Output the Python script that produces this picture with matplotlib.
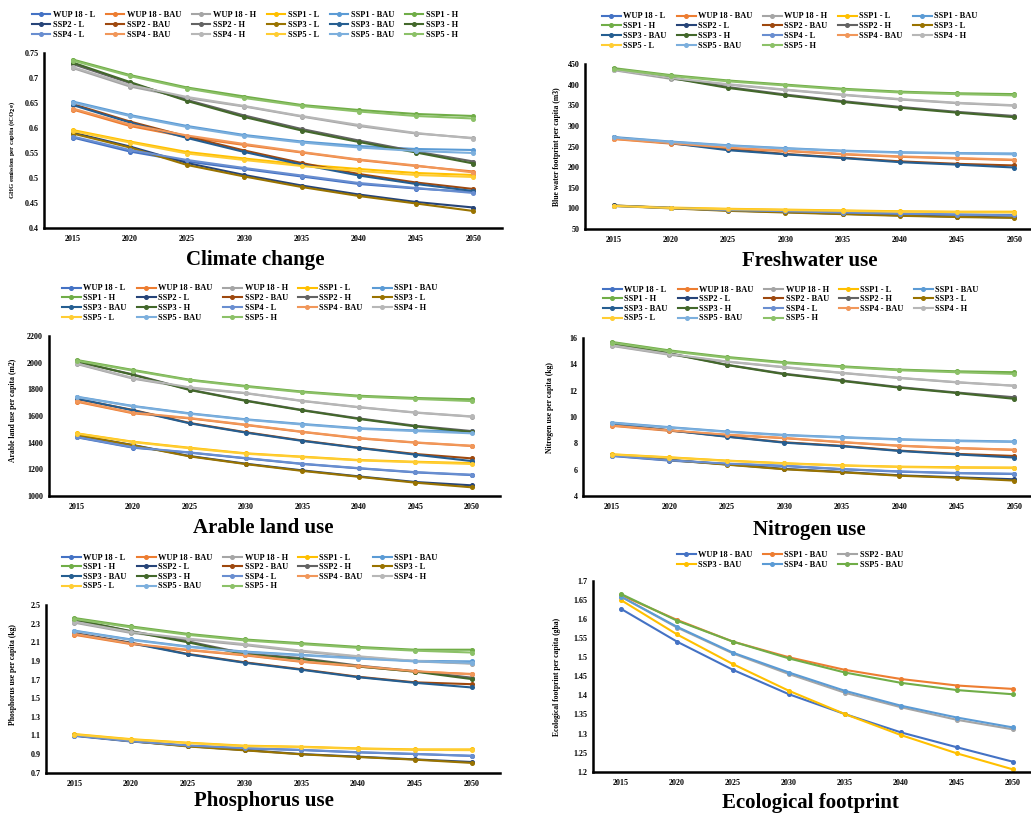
import matplotlib
matplotlib.use('Agg')
import matplotlib.pyplot as plt

plt.rcParams['font.family'] = ['Liberation Serif', 'DejaVu Serif']
plt.rcParams['font.weight'] = 'bold'

years = ['2015', '2020', '2025', '2030', '2035', '2040', '2045', '2050']

scenarios = ['WUP 18 - L', 'WUP 18 - BAU', 'WUP 18 - H', 'SSP1 - L', 'SSP1 - BAU', 'SSP1 - H',
             'SSP2 - L', 'SSP2 - BAU', 'SSP2 - H', 'SSP3 - L', 'SSP3 - BAU', 'SSP3 - H',
             'SSP4 - L', 'SSP4 - BAU', 'SSP4 - H', 'SSP5 - L', 'SSP5 - BAU', 'SSP5 - H']

colors = ['#4472C4', '#ED7D31', '#A5A5A5', '#FFC000', '#5B9BD5', '#70AD47',
          '#264478', '#9E480E', '#636363', '#997300', '#255E91', '#43682B',
          '#698ED0', '#F1975A', '#B7B7B7', '#FFCD33', '#7CAFDD', '#8CC168']

# Climate change (GHG, tCO2e per capita), order = scenarios
climate = [
    [0.581, 0.553, 0.533, 0.518, 0.503, 0.488, 0.479, 0.472],
    [0.637, 0.604, 0.582, 0.566, 0.551, 0.536, 0.524, 0.513],
    [0.720, 0.683, 0.660, 0.643, 0.623, 0.604, 0.589, 0.580],
    [0.596, 0.573, 0.552, 0.539, 0.527, 0.518, 0.510, 0.506],
    [0.653, 0.626, 0.604, 0.586, 0.573, 0.564, 0.558, 0.556],
    [0.737, 0.706, 0.681, 0.663, 0.646, 0.636, 0.628, 0.624],
    [0.591, 0.563, 0.530, 0.506, 0.485, 0.467, 0.452, 0.441],
    [0.648, 0.613, 0.583, 0.555, 0.530, 0.508, 0.491, 0.478],
    [0.728, 0.690, 0.656, 0.625, 0.598, 0.575, 0.553, 0.533],
    [0.589, 0.561, 0.526, 0.503, 0.482, 0.464, 0.449, 0.434],
    [0.646, 0.611, 0.580, 0.552, 0.527, 0.505, 0.488, 0.474],
    [0.731, 0.692, 0.654, 0.622, 0.595, 0.572, 0.551, 0.529],
    [0.583, 0.556, 0.536, 0.520, 0.505, 0.490, 0.480, 0.470],
    [0.639, 0.607, 0.585, 0.568, 0.552, 0.537, 0.525, 0.511],
    [0.722, 0.686, 0.662, 0.644, 0.624, 0.606, 0.590, 0.579],
    [0.594, 0.571, 0.549, 0.536, 0.524, 0.514, 0.506, 0.502],
    [0.651, 0.624, 0.602, 0.584, 0.571, 0.561, 0.554, 0.550],
    [0.735, 0.704, 0.679, 0.660, 0.644, 0.633, 0.624, 0.619],
]

# Freshwater use (blue water footprint, m3 per capita)
freshwater = [
    [106, 101, 96, 93, 90, 87, 85, 84],
    [268, 257, 246, 239, 231, 225, 221, 217],
    [435, 414, 400, 387, 375, 364, 355, 349],
    [107, 102, 99, 97, 95, 93, 92, 92],
    [273, 262, 253, 246, 240, 236, 234, 233],
    [440, 423, 410, 400, 390, 383, 379, 377],
    [107, 101, 95, 91, 87, 83, 80, 78],
    [271, 259, 243, 232, 223, 214, 208, 204],
    [437, 417, 394, 376, 360, 346, 334, 324],
    [106, 100, 94, 90, 86, 82, 79, 77],
    [272, 258, 241, 231, 222, 212, 206, 199],
    [438, 416, 392, 374, 358, 344, 332, 321],
    [106, 101, 96, 93, 90, 87, 85, 83],
    [269, 258, 247, 240, 232, 226, 222, 218],
    [436, 416, 401, 388, 376, 365, 356, 350],
    [106, 101, 98, 96, 94, 92, 91, 90],
    [272, 261, 252, 245, 239, 235, 233, 231],
    [438, 421, 408, 398, 388, 381, 377, 374],
]

# Arable land use (m2 per capita)
arable = [
    [1440, 1362, 1325, 1282, 1240, 1207, 1177, 1157],
    [1707, 1620, 1582, 1532, 1480, 1432, 1400, 1375],
    [1990, 1880, 1810, 1770, 1712, 1665, 1625, 1595],
    [1470, 1407, 1362, 1320, 1295, 1270, 1257, 1247],
    [1745, 1675, 1620, 1575, 1540, 1508, 1492, 1485],
    [2020, 1945, 1872, 1825, 1783, 1752, 1735, 1725],
    [1455, 1382, 1300, 1242, 1192, 1147, 1105, 1080],
    [1727, 1645, 1548, 1478, 1416, 1362, 1315, 1282],
    [2005, 1912, 1798, 1716, 1645, 1582, 1527, 1487],
    [1458, 1380, 1297, 1239, 1188, 1144, 1100, 1065],
    [1730, 1642, 1545, 1475, 1413, 1360, 1310, 1262],
    [2010, 1908, 1795, 1713, 1642, 1578, 1522, 1480],
    [1443, 1365, 1327, 1284, 1242, 1209, 1179, 1160],
    [1712, 1625, 1585, 1535, 1482, 1435, 1402, 1377],
    [1995, 1885, 1815, 1772, 1714, 1667, 1627, 1597],
    [1468, 1404, 1358, 1317, 1292, 1267, 1253, 1240],
    [1742, 1672, 1617, 1572, 1536, 1504, 1487, 1470],
    [2015, 1940, 1868, 1820, 1778, 1746, 1728, 1712],
]

# Nitrogen use (kg per capita)
nitrogen = [
    [7.04, 6.69, 6.44, 6.28, 6.03, 5.85, 5.73, 5.67],
    [9.33, 8.95, 8.64, 8.39, 8.08, 7.81, 7.63, 7.50],
    [15.40, 14.73, 14.20, 13.77, 13.34, 12.96, 12.63, 12.37],
    [7.17, 6.94, 6.69, 6.49, 6.33, 6.23, 6.18, 6.16],
    [9.58, 9.23, 8.90, 8.64, 8.47, 8.31, 8.21, 8.14],
    [15.70, 15.06, 14.56, 14.16, 13.85, 13.60, 13.47, 13.40],
    [7.10, 6.75, 6.40, 6.06, 5.83, 5.57, 5.42, 5.27],
    [9.45, 9.00, 8.52, 8.08, 7.81, 7.45, 7.20, 7.04],
    [15.55, 14.85, 13.97, 13.29, 12.78, 12.27, 11.86, 11.50],
    [7.12, 6.73, 6.38, 6.03, 5.80, 5.54, 5.38, 5.17],
    [9.48, 8.98, 8.50, 8.05, 7.78, 7.42, 7.16, 6.92],
    [15.60, 14.82, 13.95, 13.25, 12.74, 12.23, 11.82, 11.38],
    [7.06, 6.71, 6.46, 6.30, 6.05, 5.87, 5.75, 5.69],
    [9.36, 8.98, 8.66, 8.41, 8.10, 7.83, 7.65, 7.52],
    [15.45, 14.78, 14.22, 13.80, 13.36, 12.98, 12.65, 12.38],
    [7.15, 6.92, 6.67, 6.47, 6.31, 6.20, 6.15, 6.12],
    [9.55, 9.20, 8.87, 8.61, 8.44, 8.28, 8.17, 8.10],
    [15.65, 15.00, 14.50, 14.10, 13.80, 13.55, 13.40, 13.27],
]

# Phosphorus use (kg per capita)
phosphorus = [
    [1.095, 1.035, 0.990, 0.961, 0.943, 0.918, 0.900, 0.880],
    [2.180, 2.080, 2.015, 1.960, 1.890, 1.840, 1.785, 1.760],
    [2.310, 2.200, 2.130, 2.070, 2.000, 1.945, 1.895, 1.870],
    [1.115, 1.060, 1.022, 0.990, 0.979, 0.961, 0.950, 0.950],
    [2.225, 2.130, 2.055, 2.000, 1.965, 1.930, 1.900, 1.895],
    [2.360, 2.270, 2.190, 2.130, 2.090, 2.050, 2.020, 2.020],
    [1.100, 1.040, 0.985, 0.943, 0.900, 0.872, 0.843, 0.815],
    [2.200, 2.095, 1.975, 1.885, 1.810, 1.730, 1.670, 1.650],
    [2.340, 2.220, 2.110, 1.980, 1.930, 1.850, 1.790, 1.720],
    [1.102, 1.038, 0.982, 0.940, 0.897, 0.868, 0.840, 0.805],
    [2.195, 2.090, 1.970, 1.880, 1.805, 1.725, 1.665, 1.615],
    [2.345, 2.215, 2.100, 1.970, 1.920, 1.840, 1.785, 1.705],
    [1.098, 1.037, 0.992, 0.963, 0.945, 0.920, 0.902, 0.882],
    [2.190, 2.085, 2.020, 1.965, 1.895, 1.845, 1.790, 1.755],
    [2.320, 2.210, 2.140, 2.080, 2.010, 1.950, 1.900, 1.875],
    [1.110, 1.055, 1.018, 0.985, 0.975, 0.957, 0.945, 0.942],
    [2.220, 2.125, 2.050, 1.995, 1.960, 1.925, 1.895, 1.880],
    [2.350, 2.260, 2.180, 2.120, 2.080, 2.040, 2.010, 1.990],
]

# Ecological footprint (gha per capita)
eco_labels = ['WUP 18 - BAU', 'SSP1 - BAU', 'SSP2 - BAU', 'SSP3 - BAU', 'SSP4 - BAU', 'SSP5 - BAU']
eco_colors = ['#4472C4', '#ED7D31', '#A5A5A5', '#FFC000', '#5B9BD5', '#70AD47']
ecological = [
    [1.627, 1.541, 1.467, 1.403, 1.351, 1.303, 1.264, 1.226],
    [1.663, 1.598, 1.541, 1.500, 1.467, 1.443, 1.426, 1.417],
    [1.659, 1.578, 1.510, 1.456, 1.407, 1.369, 1.336, 1.311],
    [1.650, 1.560, 1.482, 1.412, 1.351, 1.296, 1.248, 1.206],
    [1.659, 1.580, 1.512, 1.460, 1.412, 1.373, 1.342, 1.316],
    [1.666, 1.596, 1.541, 1.497, 1.460, 1.433, 1.414, 1.403],
]

W, H = 1031, 816


def fx(x):
    return x / W


def fy(y):
    return 1 - y / H


def reorder(items, ncol):
    n = len(items)
    base, nlarge = divmod(n, ncol)
    rows_per_col = [base + 1] * nlarge + [base] * (ncol - nlarge)
    out = []
    for c in range(ncol):
        for r in range(rows_per_col[c]):
            out.append(items[r * ncol + c])
    return out


fig = plt.figure(figsize=(W / 100, H / 100), dpi=100)

panels = [
    dict(vals=climate, labels=scenarios, cols=colors,
         px=(44, 53, 502, 228), ylim=(0.4, 0.75),
         yticks=[0.4, 0.45, 0.5, 0.55, 0.6, 0.65, 0.7, 0.75],
         yticklabels=['0.4', '0.45', '0.5', '0.55', '0.6', '0.65', '0.7', '0.75'],
         ylabel='GHG emission per capita (tCO$_2$e)', ylab_xy=(12, 150), ylab_fs=4.8,
         title='Climate change', title_xy=(255, 265), ncol=6, leg_xy=(245, 25)),
    dict(vals=freshwater, labels=scenarios, cols=colors,
         px=(585, 64, 1043, 229), ylim=(50, 450),
         yticks=[50, 100, 150, 200, 250, 300, 350, 400, 450],
         yticklabels=['50', '100', '150', '200', '250', '300', '350', '400', '450'],
         ylabel='Blue water footprint per capita (m3)', ylab_xy=(557, 147), ylab_fs=5.5,
         title='Freshwater use', title_xy=(810, 266), ncol=5, leg_xy=(790, 31)),
    dict(vals=arable, labels=scenarios, cols=colors,
         px=(48.5, 336, 500, 496), ylim=(1000, 2200),
         yticks=[1000, 1200, 1400, 1600, 1800, 2000, 2200],
         yticklabels=['1000', '1200', '1400', '1600', '1800', '2000', '2200'],
         ylabel='Arable land use per capita (m2)', ylab_xy=(13, 410), ylab_fs=5.5,
         title='Arable land use', title_xy=(263, 533), ncol=5, leg_xy=(250, 303)),
    dict(vals=nitrogen, labels=scenarios, cols=colors,
         px=(583, 338, 1043, 496), ylim=(4, 16),
         yticks=[4, 6, 8, 10, 12, 14, 16],
         yticklabels=['4', '6', '8', '10', '12', '14', '16'],
         ylabel='Nitrogen use per capita (kg)', ylab_xy=(550, 408), ylab_fs=5.5,
         title='Nitrogen use', title_xy=(809, 535), ncol=5, leg_xy=(791, 304)),
    dict(vals=phosphorus, labels=scenarios, cols=colors,
         px=(46, 605, 500, 772.7), ylim=(0.7, 2.5),
         yticks=[0.7, 0.9, 1.1, 1.3, 1.5, 1.7, 1.9, 2.1, 2.3, 2.5],
         yticklabels=['0.7', '0.9', '1.1', '1.3', '1.5', '1.7', '1.9', '2.1', '2.3', '2.5'],
         ylabel='Phosphorus use per capita (kg)', ylab_xy=(13, 675), ylab_fs=5.5,
         title='Phosphorus use', title_xy=(264, 806), ncol=5, leg_xy=(250, 572)),
    dict(vals=ecological, labels=eco_labels, cols=eco_colors,
         px=(593, 581, 1041, 771.7), ylim=(1.2, 1.7),
         yticks=[1.2, 1.25, 1.3, 1.35, 1.4, 1.45, 1.5, 1.55, 1.6, 1.65, 1.7],
         yticklabels=['1.2', '1.25', '1.3', '1.35', '1.4', '1.45', '1.5', '1.55', '1.6', '1.65', '1.7'],
         ylabel='Ecological footprint per capita (gha)', ylab_xy=(557, 677), ylab_fs=5.5,
         title='Ecological footprint', title_xy=(810, 808), ncol=3, leg_xy=(790, 560)),
]

xs = list(range(len(years)))

for p in panels:
    x0, y0, x1, y1 = p['px']
    ax = fig.add_axes([fx(x0), fy(y1), (x1 - x0) / W, (y1 - y0) / H])
    handles = []
    for vals, lab, col in zip(p['vals'], p['labels'], p['cols']):
        h, = ax.plot(xs, vals, color=col, lw=1.5, marker='o', ms=2.6,
                     mec=col, mfc=col, label=lab, clip_on=False)
        handles.append(h)
    ax.set_xlim(-0.5, len(years) - 0.5)
    ax.set_ylim(*p['ylim'])
    ax.set_xticks(xs)
    ax.set_xticklabels(years)
    ax.set_yticks(p['yticks'])
    ax.set_yticklabels(p['yticklabels'])
    for s in ['top', 'right']:
        ax.spines[s].set_visible(False)
    for s in ['left', 'bottom']:
        ax.spines[s].set_linewidth(1.8)
        ax.spines[s].set_color('black')
    ax.tick_params(axis='both', length=0, labelsize=5.8)
    ax.tick_params(axis='y', pad=4)
    ax.tick_params(axis='x', pad=5)
    ax.patch.set_alpha(0)
    fig.text(fx(p['ylab_xy'][0]), fy(p['ylab_xy'][1]), p['ylabel'], rotation=90,
             ha='center', va='center', fontsize=p['ylab_fs'], fontweight='bold')
    fig.text(fx(p['title_xy'][0]), fy(p['title_xy'][1]), p['title'],
             ha='center', va='baseline', fontsize=15, fontweight='bold')
    ncol = p['ncol']
    lh = reorder(handles, ncol)
    ll = reorder(p['labels'], ncol)
    ax.legend(lh, ll, loc='center', bbox_to_anchor=(fx(p['leg_xy'][0]), fy(p['leg_xy'][1])),
              bbox_transform=fig.transFigure, ncol=ncol, frameon=False, fontsize=6,
              handlelength=2.2, handletextpad=0.35, columnspacing=1.25,
              labelspacing=0.2, borderpad=0, borderaxespad=0, numpoints=1)

fig.savefig('out.png', dpi=100)
